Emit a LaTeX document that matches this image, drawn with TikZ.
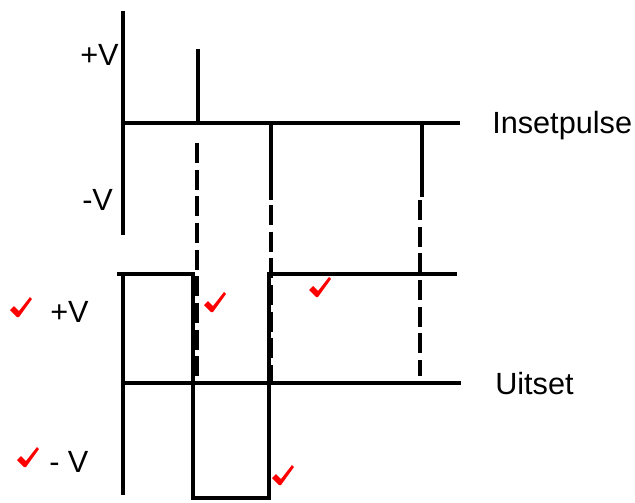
\documentclass[tikz,border=0pt]{standalone}
\usepackage{fontspec}
\setmainfont{Liberation Sans}
\begin{document}
\begin{tikzpicture}[x=0.75pt, y=-0.75pt, every node/.style={inner sep=0pt, anchor=base west, font=\fontsize{23}{27}\selectfont}, line cap=butt]
		\tikzstyle{axis} = [line width=2.4pt]
		\tikzstyle{pulse} = [line width=2.4pt]
		\tikzstyle{wave} = [line width=3.2pt, line join=miter]
		\tikzstyle{guide} = [line width=2.3pt, dash pattern=on 15pt off 5pt]
		\tikzset{tick/.pic={\fill[red] (-11,2) -- (-7,-2) -- (-2,3) -- (9,-11) -- (11,-9) -- (-2,9) -- (-4,9) -- cycle;}}
		\useasboundingbox (0,0) rectangle (635,503);
		
		% input pulses
		\draw[axis] (123,11) -- (123,235);
		\draw[axis] (123,123) -- (460,123);
		\draw[pulse] (198,49) -- (198,123);
		\draw[pulse, line width=3.4pt] (271,123) -- (271,200);
		\draw[pulse] (422,123) -- (422,197);
		\node (inplus) at (80,65) {+V};
		\node (inmin) at (82,210) {-V};
		\node (inset) at (492,133) {Insetpulse};
		
		% output
		\draw[axis] (123,272) -- (123,495);
		\draw[axis] (123,383) -- (461,383);
		\draw[wave] (117,274) -- (193,274) -- (193,498) -- (269,498) -- (269,274) -- (457,274);
		\node (outplus) at (50,322) {+V};
		\node (outmin) at (49,472) {- V};
		\node (uitset) at (495,394) {Uitset};
		
		% guides
		\draw[guide] (197,143) -- (197,383);
		\draw[guide] (271,205) -- (271,383);
		\draw[guide] (420,200) -- (420,376);
		
		% marks
		\pic at (21,308) {tick};
		\pic at (215,303) {tick};
		\pic at (320,288) {tick};
		\pic at (28,458) {tick};
		\pic at (283,476) {tick};
	\end{tikzpicture}
\end{document}
